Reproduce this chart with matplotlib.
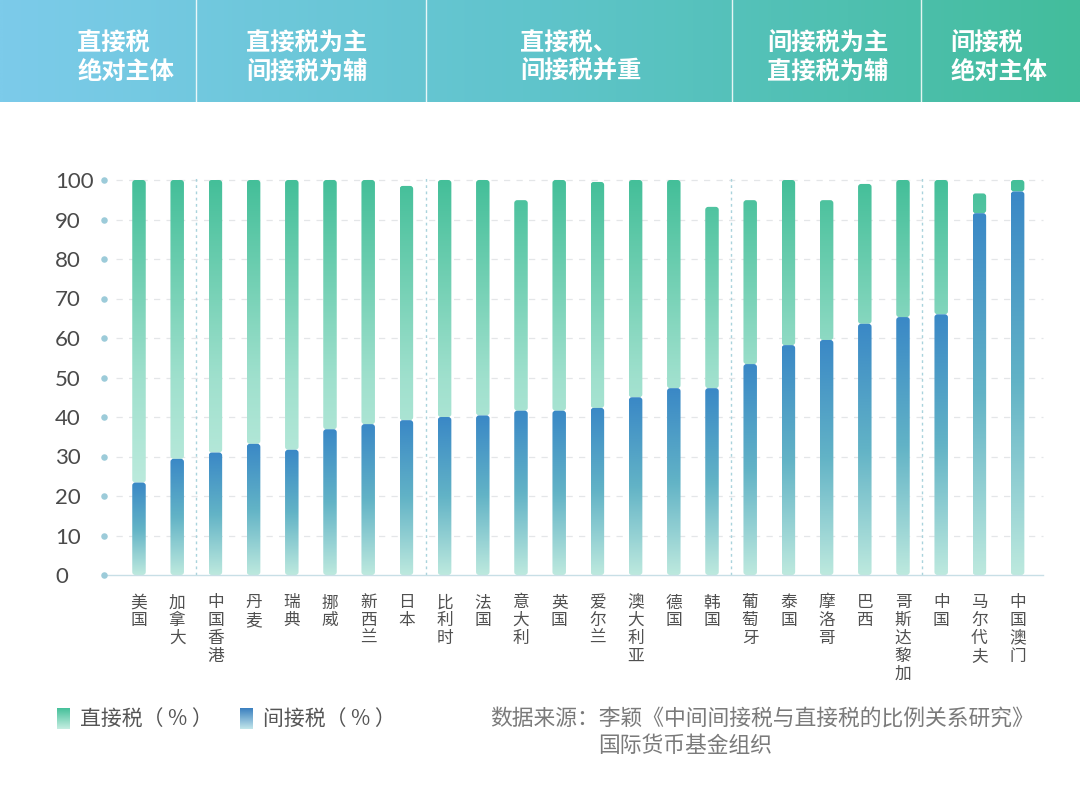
import numpy as np
import matplotlib
matplotlib.use("Agg")
import matplotlib.pyplot as plt
from matplotlib.colors import LinearSegmentedColormap
from matplotlib.patches import FancyBboxPatch

plt.rcParams['font.family'] = ['Noto Sans CJK SC', 'DejaVu Sans']

# ---------------- data ----------------
countries = ["美国", "加拿大", "中国香港", "丹麦", "瑞典", "挪威", "新西兰", "日本",
             "比利时", "法国", "意大利", "英国", "爱尔兰", "澳大利亚", "德国", "韩国",
             "葡萄牙", "泰国", "摩洛哥", "巴西", "哥斯达黎加", "中国", "马尔代夫", "中国澳门"]
indirect = [23.4, 29.4, 31.0, 33.2, 31.7, 36.9, 38.2, 39.2,
            40.0, 40.4, 41.6, 41.6, 42.3, 45.0, 47.3, 47.3,
            53.4, 58.2, 59.5, 63.6, 65.3, 66.0, 91.6, 97.1]
direct = [76.6, 70.6, 69.0, 66.8, 68.3, 63.1, 61.8, 59.3,
          60.0, 59.6, 53.3, 58.4, 57.2, 55.0, 52.7, 45.9,
          41.5, 41.8, 35.4, 35.4, 34.7, 34.0, 5.0, 2.9]
group_titles = ["直接税\n绝对主体", "直接税为主\n间接税为辅", "直接税、\n间接税并重",
                "间接税为主\n直接税为辅", "间接税\n绝对主体"]
group_sizes = [2, 6, 8, 5, 3]
yticks = [0, 10, 20, 30, 40, 50, 60, 70, 80, 90, 100]
legend_labels = ["直接税（ % ）", "间接税（ % ）"]
source_lines = ["数据来源：李颖《中间间接税与直接税的比例关系研究》", "国际货币基金组织"]

# ---------------- figure ----------------
W, H = 1080, 791
fig = plt.figure(figsize=(W / 100, H / 100), dpi=100)
fig.patch.set_facecolor("white")

# header band
hdr_h = 102
hax = fig.add_axes([0, 1 - hdr_h / H, 1, hdr_h / H])
hcmap = LinearSegmentedColormap.from_list("hdr", ["#7ccbea", "#5fc4cb", "#43bd9c"])
hax.imshow(np.linspace(0, 1, 512)[None, :], cmap=hcmap, aspect="auto",
           extent=(0, W, hdr_h, 0))
hax.set_xlim(0, W)
hax.set_ylim(hdr_h, 0)
hax.axis("off")
seps_px = [196, 426, 732, 921]
for sx in seps_px:
    hax.plot([sx, sx], [0, hdr_h], color="white", lw=1.0, alpha=0.85)
title_x = [77, 246, 520, 767, 950]
for tx, t in zip(title_x, group_titles):
    hax.text(tx, 58, t, color="white", fontsize=17.5, fontweight="bold",
             ha="left", va="center", linespacing=1.2)

# main axes
ax_left, ax_right = 103, 1043
y0_px, y100_px = 575, 180
ax = fig.add_axes([ax_left / W, 1 - y0_px / H, (ax_right - ax_left) / W,
                   (y0_px - y100_px) / H])
x = np.arange(len(countries))
spacing_px = 38.2
x_first_px = 139
xlim = ((ax_left - x_first_px) / spacing_px, (ax_right - x_first_px) / spacing_px)
w = 13.5 / spacing_px

green_cmap = LinearSegmentedColormap.from_list("g", ["#d4f3ea", "#9fe0cd", "#44bf99"])
blue_cmap = LinearSegmentedColormap.from_list("b", ["#bde9de", "#62b3c6", "#3a88c6"])
grad = np.linspace(0, 1, 256)[:, None]

bars_ind = ax.bar(x, indirect, width=w, color="none", edgecolor="none")
bars_dir = ax.bar(x, direct, bottom=indirect, width=w, color="none", edgecolor="none")

asp = spacing_px / ((y0_px - y100_px) / 100.0)
rs = 3.0 / spacing_px

def rounded(b):
    p = FancyBboxPatch((b.get_x(), b.get_y()), b.get_width(), b.get_height(),
                       boxstyle=f"round,pad=0,rounding_size={rs}",
                       mutation_aspect=asp, fc="none", ec="none")
    ax.add_patch(p)
    return p

for b in bars_dir:
    p = rounded(b)
    im = ax.imshow(grad, cmap=green_cmap, aspect="auto", origin="lower",
                   extent=(b.get_x(), b.get_x() + b.get_width(), 0, 100), zorder=2)
    im.set_clip_path(p)
for b in bars_ind:
    p = rounded(b)
    im = ax.imshow(grad, cmap=blue_cmap, aspect="auto", origin="lower",
                   extent=(b.get_x(), b.get_x() + b.get_width(),
                           b.get_y(), b.get_y() + b.get_height()), zorder=3)
    im.set_clip_path(p)

ax.set_xlim(*xlim)
ax.set_ylim(0, 100)

# grid
for yv in yticks[1:]:
    ax.plot([xlim[0] + 0.35, xlim[1]], [yv, yv], color="#e4e6e8", lw=0.9,
            ls=(0, (5, 5)), zorder=1, clip_on=False)
ax.plot([xlim[0], xlim[1]], [0, 0], color="#c8dfe6", lw=1.0, zorder=4, clip_on=False)
ax.scatter([xlim[0] + 0.03] * len(yticks), yticks, s=22, color="#9ccbd9",
           zorder=5, clip_on=False, linewidths=0)

# group separators
bounds = np.cumsum(group_sizes)[:-1]
for bnd in bounds:
    ax.plot([bnd - 0.5, bnd - 0.5], [0, 100.5], color="#a9d3dc", lw=1.0,
            ls=(0, (2, 2.5)), zorder=1, clip_on=False)

for s in ax.spines.values():
    s.set_visible(False)

ax.set_yticks(yticks)
ax.set_yticklabels([str(v) for v in yticks], family=["Lato", "DejaVu Sans"],
                   fontsize=16, color="#4a4a4a", ha="left")
ax.tick_params(axis="y", length=0, pad=48 * 0.72)
ax.set_xticks(x)
ax.set_xticklabels(["\n".join(c) for c in countries], fontsize=12,
                   color="#505050", va="top", linespacing=1.06)
ax.tick_params(axis="x", length=0, pad=14)

# legend
lax = fig.add_axes([0, 0, 1, 1], zorder=-1)
lax.set_xlim(0, W)
lax.set_ylim(H, 0)
lax.axis("off")
lg_cmap = LinearSegmentedColormap.from_list("lg", ["#45c09a", "#c6eee2"])
lb_cmap = LinearSegmentedColormap.from_list("lb", ["#3a7fc0", "#c3e7ea"])
for (px0, cm, lab, tx) in [(57, lg_cmap, legend_labels[0], 80),
                           (240, lb_cmap, legend_labels[1], 263)]:
    lax.imshow(grad, cmap=cm, aspect="auto", origin="upper",
               extent=(px0, px0 + 13, 729, 708))
    lax.text(tx, 719, lab, fontsize=15, color="#555555", ha="left", va="center")
lax.set_xlim(0, W)
lax.set_ylim(H, 0)

lax.text(490, 719, source_lines[0], fontsize=15.7, color="#7a7a7a",
         ha="left", va="center")
lax.text(598, 746, source_lines[1], fontsize=15.7, color="#7a7a7a",
         ha="left", va="center")

fig.savefig("out.png", dpi=100, facecolor="white")
